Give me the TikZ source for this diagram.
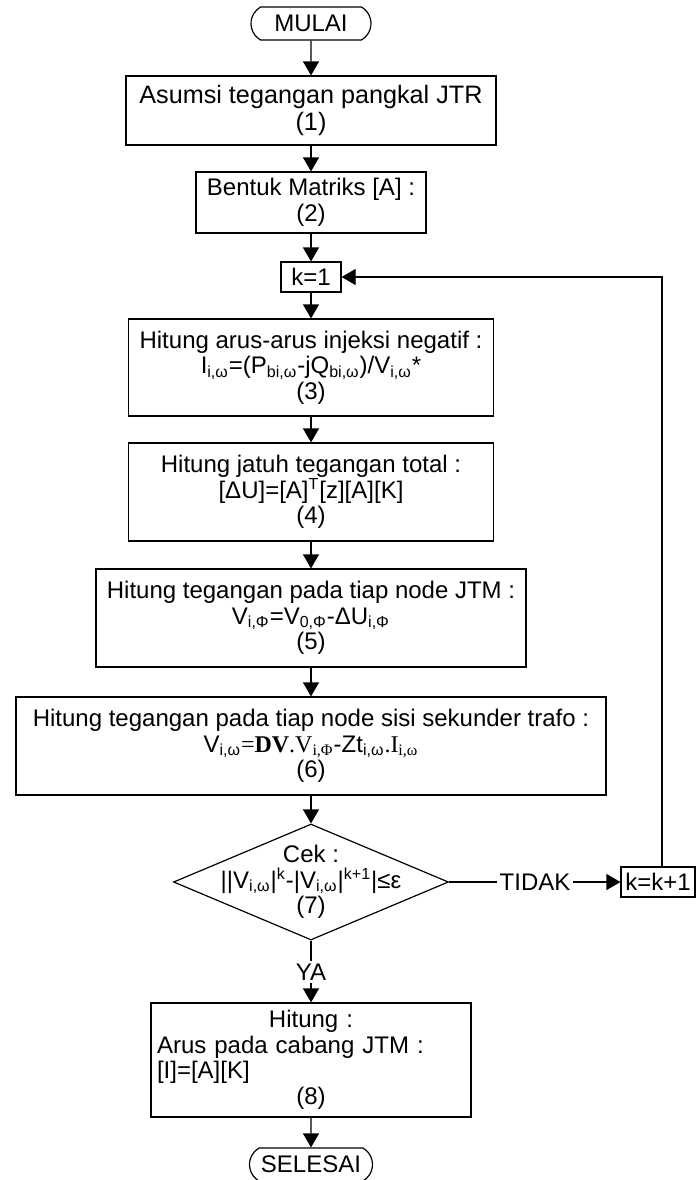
\documentclass[tikz,border=0pt]{standalone}
\usepackage{fontspec}
\setmainfont{Liberation Sans}
\newfontfamily\seriffont{Liberation Serif}
\usetikzlibrary{shapes.geometric, shapes.misc, arrows.meta}

\begin{document}
\begin{tikzpicture}[x=0.5pt, y=-0.5pt,
	font=\fontsize{12}{12.75}\selectfont,
	every node/.style={inner sep=0pt},
	proses/.style={draw, line width=0.6pt, align=center},
	terminal/.style={draw, line width=0.6pt, rounded rectangle, rounded rectangle arc length=120, minimum height=16.5pt},
	keputusan/.style={draw, line width=0.6pt, diamond, minimum width=137.5pt, minimum height=58pt},
	alir/.style={line width=0.6pt, -{Triangle[length=7pt, width=8pt]}}]
	\useasboundingbox (0,0) rectangle (696,1180);

	\node[terminal, minimum width=60pt] (mulai) at (311,23.5) {MULAI};
	\node[proses, minimum width=185pt, minimum height=34.5pt, font=\fontsize{12.6}{13.2}\selectfont] (asumsi) at (311,110.5) {Asumsi tegangan pangkal JTR\\(1)};
	\node[proses, minimum width=115pt, minimum height=30.5pt] (matriks) at (311,202.5) {Bentuk Matriks [A] :\\(2)};
	\node[proses, minimum width=30pt, minimum height=15pt] (k1) at (311,277) {k=1};
	\node[proses, minimum width=182.5pt, minimum height=48.5pt] (injeksi) at (311,367.5) {Hitung arus-arus injeksi negatif :\\I\textsubscript{i,ω}=(P\textsubscript{bi,ω}-jQ\textsubscript{bi,ω})/V\textsubscript{i,ω}*\\(3)};
	\node[proses, minimum width=182.5pt, minimum height=49pt] (jatuh) at (311,492) {Hitung jatuh tegangan total :\\{[ΔU]=[A]\textsuperscript{T}[z][A][K]}\\(4)};
	\node[proses, minimum width=215pt, minimum height=49pt] (jtm) at (311,618) {Hitung tegangan pada tiap node JTM :\\V\textsubscript{i,Φ}=V\textsubscript{0,Φ}-ΔU\textsubscript{i,Φ}\\(5)};
	\node[proses, minimum width=295pt, minimum height=49pt] (trafo) at (311,746) {Hitung tegangan pada tiap node sisi sekunder trafo :\\V\textsubscript{i,ω}{\seriffont=\textbf{DV}.V\textsubscript{i,Φ}}-Zt\textsubscript{i,ω}{\seriffont.I\textsubscript{i,ω}}\\(6)};

	\node[keputusan] (cek) at (311,882) {};
	\node[align=center] (cektext) at (cek) {Cek :\\||V\textsubscript{i,ω}|\textsuperscript{k}-|V\textsubscript{i,ω}|\textsuperscript{k+1}|≤ε\\(7)};
	\node[inner sep=1pt] (ya) at (311,972) {YA};
	\node[inner sep=1pt] (tidak) at (535,882) {TIDAK};
	\node[proses, minimum width=37pt, minimum height=15pt] (k2) at (658,882) {k=k+1};

	\node[proses, minimum width=160pt, minimum height=57pt, text width=154pt, align=left] (arus) at (311,1060) {\makebox[\linewidth]{Hitung :}\\Arus pada cabang JTM :\\{[I]=[A][K]}\\\makebox[\linewidth]{(8)}};
	\node[terminal, minimum width=61.5pt] (selesai) at (311,1164.5) {SELESAI};

	\draw[alir] (mulai) -- (asumsi);
	\draw[alir] (asumsi) -- (matriks);
	\draw[alir] (matriks) -- (k1);
	\draw[alir] (k1) -- (injeksi);
	\draw[alir] (injeksi) -- (jatuh);
	\draw[alir] (jatuh) -- (jtm);
	\draw[alir] (jtm) -- (trafo);
	\draw[alir] (trafo) -- (cek);
	\draw[line width=0.6pt] (cek) -- (ya);
	\draw[alir] (ya) -- (arus);
	\draw[alir] (arus) -- (selesai);
	\draw[line width=0.6pt] (cek) -- (tidak);
	\draw[alir] (tidak) -- (k2);
	\draw[alir] ([xshift=2pt]k2.north) |- (k1);

\end{tikzpicture}
\end{document}
